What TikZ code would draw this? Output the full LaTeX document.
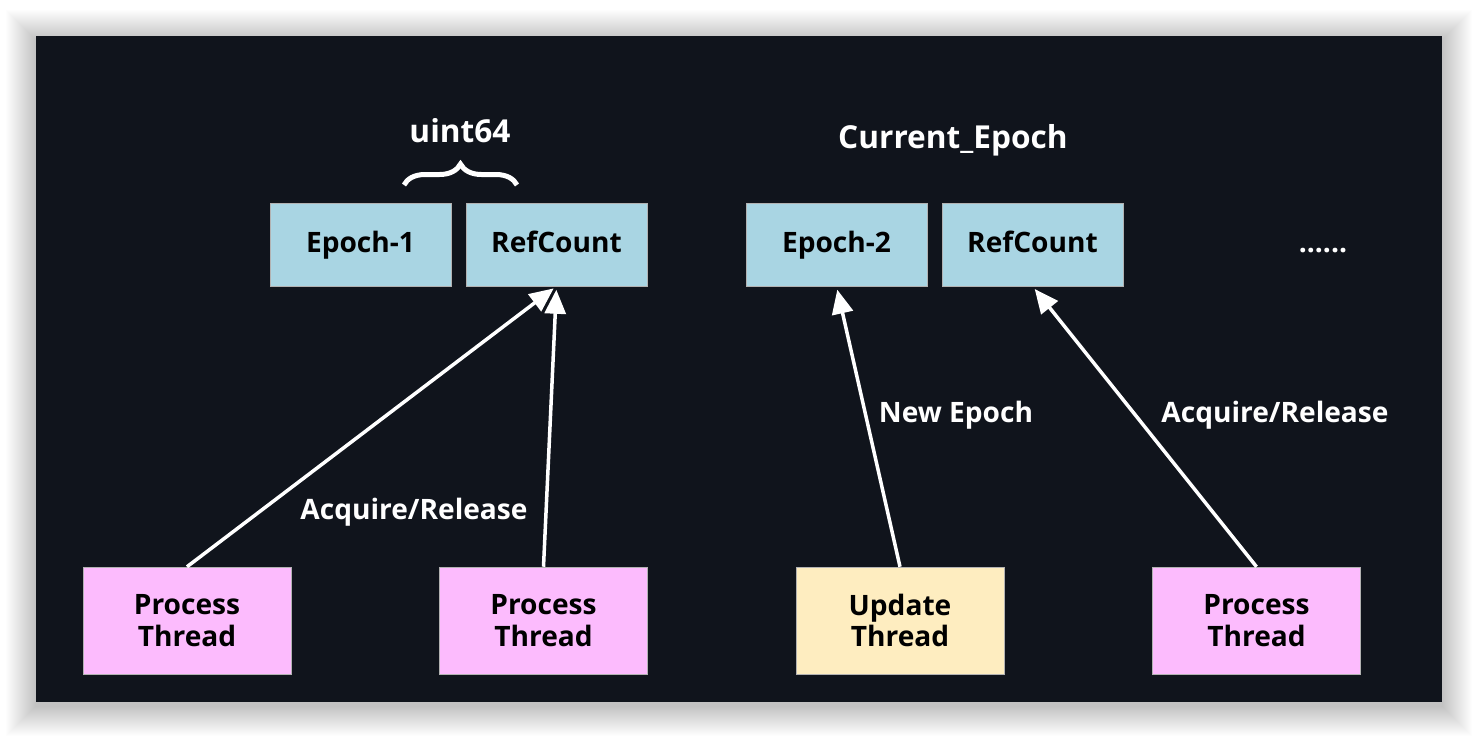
\documentclass[tikz,border=0pt]{standalone}
\usepackage{fontspec}
\setmainfont{Open Sans}
\usetikzlibrary{arrows.meta,decorations.pathreplacing,backgrounds}
\definecolor{bgdark}{HTML}{10141C}
\definecolor{slotblue}{HTML}{A9D5E3}
\definecolor{procpink}{HTML}{FCBBFD}
\definecolor{updyellow}{HTML}{FEEDC0}
\newcommand{\slotw}{3.62cm}
\newcommand{\sloth}{1.66cm}
\newcommand{\thrw}{4.16cm}
\newcommand{\thrh}{2.14cm}
\newcommand{\lw}{0.07cm}

\begin{document}
\begin{tikzpicture}[x=0.02cm,y=-0.02cm,
  every node/.style={font=\fontsize{16pt}{18pt}\selectfont\bfseries},
  slot/.style={draw=gray!60,line width=0.3pt,fill=slotblue,minimum width=\slotw,minimum height=\sloth,text=black,text height=11.5pt,text depth=2pt},
  thread/.style={draw=gray!60,line width=0.3pt,minimum width=\thrw,minimum height=\thrh,text=black,align=center},
  label/.style={text=white},
  title/.style={text=white,font=\fontsize{18pt}{20pt}\selectfont\bfseries},
  link/.style={draw=white,line width=\lw,-{Triangle[length=0.48cm,width=0.42cm]},shorten >=2pt}]
\useasboundingbox (0,0) rectangle (1478,738);
\fill[white] (0,0) rectangle (1478,738);
% shadow
\foreach \i in {1,...,30}
  \fill[black,opacity=0.006] (36-\i,40-\i) rectangle (1442+\i,706+\i);
\fill[bgdark] (36,36) rectangle (1442,702);
% slots
\node[slot] (e1) at (360.5,244.5) {Epoch-1};
\node[slot] (r1) at (556.5,244.5) {RefCount};
\node[slot] (e2) at (836.5,244.5) {Epoch-2};
\node[slot] (r2) at (1032.5,244.5) {RefCount};
\node[label] (dots) at (1323,251) {......};
\node[title] (u64) at (460,131) {uint64};
\node[title] (cur) at (953,140) {Current\_Epoch};
\draw[white,line width=0.1cm,decorate,decoration={brace,amplitude=0.42cm}] (404,185) -- (517,185);
% threads
\node[thread,fill=procpink] (p1) at (187,620.5) {Process\\Thread};
\node[thread,fill=procpink] (p2) at (543.5,620.5) {Process\\Thread};
\node[thread,fill=updyellow] (u) at (900,620.5) {Update\\Thread};
\node[thread,fill=procpink] (p3) at (1256.5,620.5) {Process\\Thread};
% links
\draw[link] (p1.north) -- (r1.south);
\draw[link] (p2.north) -- (r1.south);
\draw[link] (u.north) -- (e2.south);
\draw[link] (p3.north) -- (r2.south);
\node[label] (ar1) at (414,512) {Acquire/Release};
\node[label] (ne) at (956,415) {New Epoch};
\node[label] (ar2) at (1275,415) {Acquire/Release};
\end{tikzpicture}
\end{document}
